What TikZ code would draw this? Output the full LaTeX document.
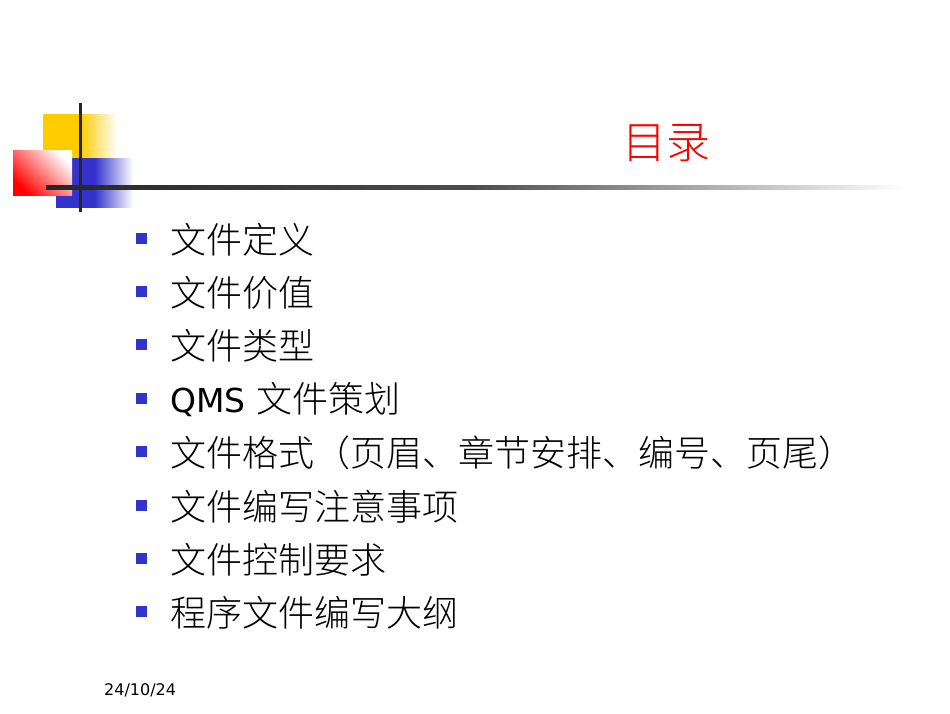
\documentclass[tikz,border=0pt]{standalone}
\usepackage{fontspec}
\setmainfont{DejaVu Sans}
\newfontfamily\cjk{Noto Sans CJK SC Light}
\definecolor{yel}{HTML}{FFCC00}
\definecolor{blu}{HTML}{3333CC}
\begin{document}
\begin{tikzpicture}[x=1pt,y=-1pt,
  item/.style={anchor=west,inner sep=0pt,font=\fontsize{33}{36}\selectfont},
  bul/.style={fill=blu,minimum size=11pt,inner sep=0pt}]
\useasboundingbox (0,0) rectangle (950,713);
\shade[left color=yel,right color=white,middle color=yel] (43,114) rectangle (117,158);
\shade[left color=blu,right color=white,middle color=blu] (56,158) rectangle (133,207);
\shade[left color=white,right color=red,shading angle=-45] (13,150) rectangle (72,195);
\draw[line width=3pt,black!85] (80,103) -- (80,212);
\shade[left color=black!85,right color=white,middle color=black!70] (46,185.5) rectangle (905,189);
\node[text=red,font=\cjk\fontsize{44}{48}\selectfont,inner sep=0pt] (t) at (666,143) {目录};
\foreach \y/\t [count=\i] in {240/{\cjk\fontsize{36}{40}\selectfont 文件定义},293/{\cjk\fontsize{36}{40}\selectfont 文件价值},346/{\cjk\fontsize{36}{40}\selectfont 文件类型},400/{QMS {\cjk\fontsize{36}{40}\selectfont 文件策划}},453/{\cjk\fontsize{36}{40}\selectfont 文件格式（页眉、章节安排、编号、页尾）},507/{\cjk\fontsize{36}{40}\selectfont 文件编写注意事项},560/{\cjk\fontsize{36}{40}\selectfont 文件控制要求},613/{\cjk\fontsize{36}{40}\selectfont 程序文件编写大纲}}{
  \node[bul] (b\i) at (141,\y-2) {};
  \node[item] (i\i) at (170,\y) {\t};
}
\node[anchor=west,inner sep=0pt,font=\fontsize{16}{18}\selectfont] (d) at (104,690) {24/10/24};
\end{tikzpicture}
\end{document}
